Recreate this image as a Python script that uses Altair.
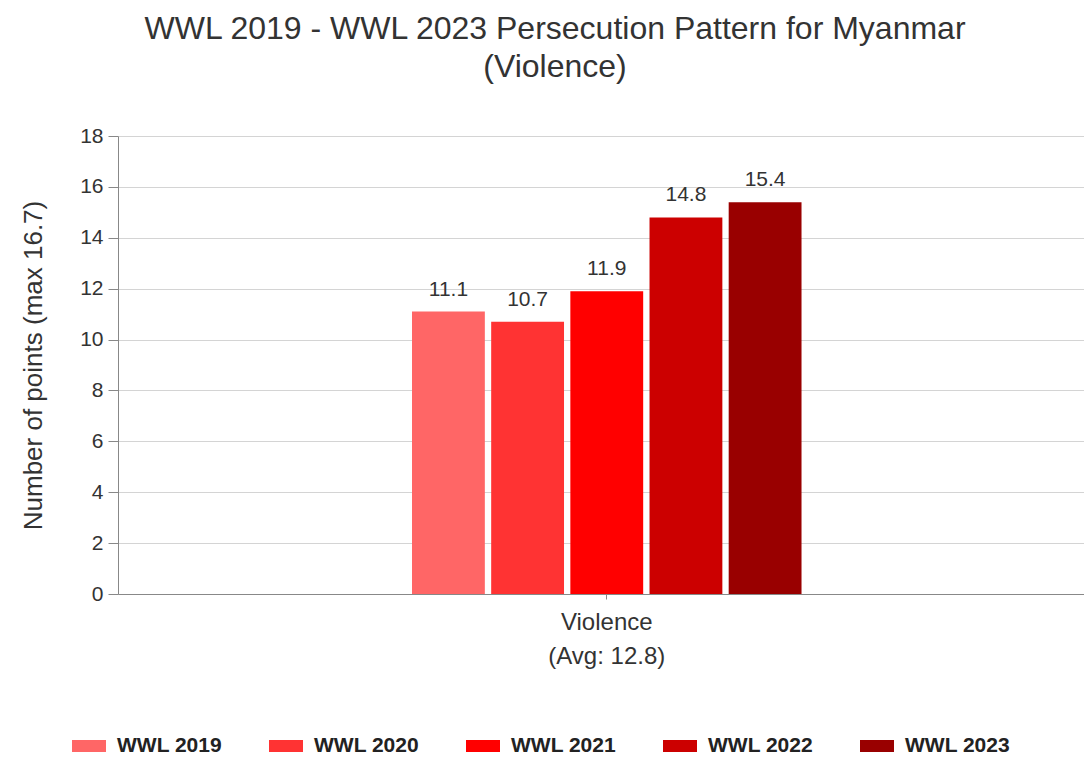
import altair as alt
import pandas as pd

years = ["WWL 2019", "WWL 2020", "WWL 2021", "WWL 2022", "WWL 2023"]
values = [11.1, 10.7, 11.9, 14.8, 15.4]
colors = ["#ff6666", "#ff3333", "#ff0000", "#cc0000", "#990000"]
category = "Violence"
avg_label = "(Avg: 12.8)"
y_ticks = [0, 2, 4, 6, 8, 10, 12, 14, 16, 18]
title_lines = ["WWL 2019 - WWL 2023 Persecution Pattern for Myanmar", "(Violence)"]
y_title = "Number of points (max 16.7)"

df = pd.DataFrame({"cat": [category] * len(years), "year": years, "value": values})

FONT = "Liberation Sans"

x_enc = alt.X(
    "cat:N",
    scale=alt.Scale(paddingInner=0, paddingOuter=0.74, align=0.51),
    axis=alt.Axis(
        title=None,
        labelAngle=0,
        labelExpr=f"[datum.label, '{avg_label}']",
        labelFontSize=24,
        labelLineHeight=34,
        labelPadding=11,
        labelColor="#333333",
        labelFont=FONT,
        tickSize=5,
        tickColor="#888888",
        domainColor="#888888",
        grid=False,
    ),
)
xoff_enc = alt.XOffset("year:N", sort=years, scale=alt.Scale(paddingInner=0.08, paddingOuter=0))
y_enc = alt.Y(
    "value:Q",
    scale=alt.Scale(domain=[0, 18], nice=False),
    axis=alt.Axis(
        values=y_ticks,
        title=y_title,
        titleFontSize=26,
        titleFont=FONT,
        titleFontWeight="normal",
        titleColor="#333333",
        titleAngle=-90,
        titleX=-85,
        titleY=229,
        titleAlign="center",
        titleBaseline="middle",
        labelFontSize=21,
        labelFont=FONT,
        labelColor="#333333",
        labelPadding=5,
        tickSize=10,
        tickColor="#888888",
        domainColor="#888888",
        gridColor="#d4d4d4",
    ),
)

bars = alt.Chart(df).mark_bar().encode(
    x=x_enc,
    xOffset=xoff_enc,
    y=y_enc,
    color=alt.Color(
        "year:N",
        sort=years,
        scale=alt.Scale(domain=years, range=colors),
        legend=alt.Legend(
            title=None,
            orient="none",
            direction="horizontal",
            legendX=-46,
            legendY=593,
            symbolType="M-1,-0.35H1V0.35H-1Z",
            symbolSize=1156,
            symbolStrokeWidth=0,
            labelFontSize=21,
            labelFont=FONT,
            labelFontWeight="bold",
            labelColor="#222222",
            labelOffset=11,
            columnPadding=46,
            labelLimit=200,
        ),
    ),
)

labels = alt.Chart(df).mark_text(
    baseline="alphabetic", dy=-16, fontSize=21, font=FONT, color="#333333"
).encode(
    x=alt.X("cat:N"),
    xOffset=alt.XOffset("year:N", sort=years),
    y=alt.Y("value:Q"),
    text=alt.Text("value:Q", format=".1f"),
)

chart = (
    alt.layer(bars, labels)
    .properties(
        width=966,
        height=458,
        autosize=alt.AutoSizeParams(type="none"),
        padding={"left": 110, "top": 128, "right": 0, "bottom": 166},
        title=alt.Title(
            title_lines,
            fontSize=32,
            font=FONT,
            fontWeight="normal",
            color="#333333",
            lineHeight=38,
            anchor="middle",
            frame="group",
            offset=41,
            dx=-46,
        ),
    )
    .configure_view(stroke=None)
)

chart.save("out.html", embed_options={"renderer": "svg", "actions": False})
